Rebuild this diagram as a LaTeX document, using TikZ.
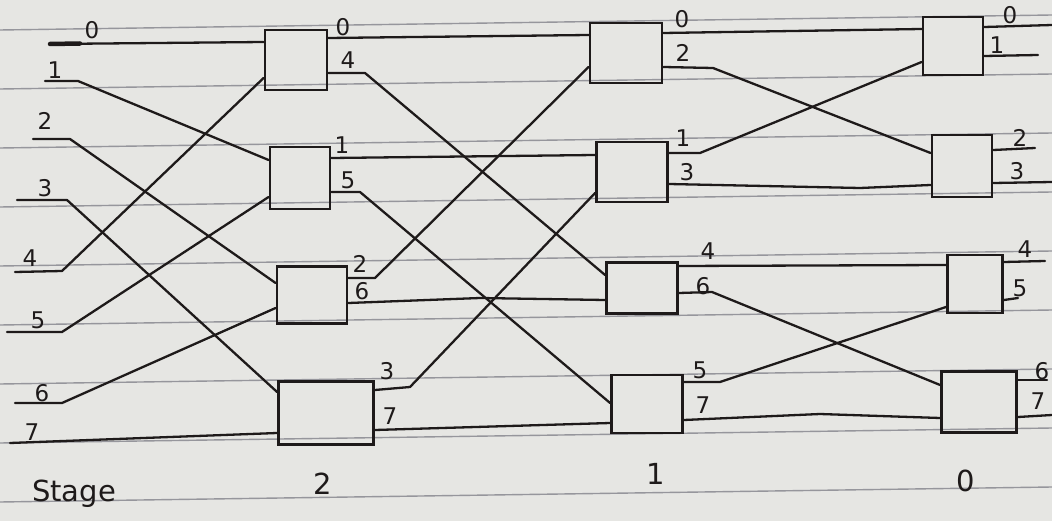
\documentclass[tikz,border=0pt]{standalone}
\usepackage{fontspec}
\setmainfont{DejaVu Sans}
\usetikzlibrary{calc}
\definecolor{paper}{RGB}{230,230,227}
\definecolor{rule}{RGB}{150,150,156}
\definecolor{ink}{RGB}{30,26,26}
\begin{document}
\begin{tikzpicture}[x=1pt,y=-1pt,
  blk/.style={draw=ink, line width=2.8pt, minimum width=#1, inner sep=0pt},
  wire/.style={draw=ink, line width=2.3pt, line join=round, line cap=round},
  lbl/.style={text=ink, font=\fontsize{23}{25}\selectfont, inner sep=0pt},
  big/.style={text=ink, font=\fontsize{29}{31}\selectfont, inner sep=0pt}]
% sheet of ruled paper
\fill[paper] (0,0) rectangle (1052,521);
\useasboundingbox (0,0) rectangle (1052,521);
\foreach \k in {0,...,8}
  \draw[rule, line width=1.4pt] (0,{30+59*\k}) -- (1052,{15+59*\k});

% stage 2 butterflies
\node[blk=62, minimum height=60] (A1) at (296,60) {};
\node[blk=60, minimum height=62] (A2) at (300,178) {};
\node[blk=70, minimum height=57] (A3) at (312,295) {};
\node[blk=95, minimum height=63] (A4) at (326,413) {};
% stage 1 butterflies
\node[blk=72, minimum height=60] (B1) at (626,53) {};
\node[blk=71, minimum height=60] (B2) at (632,172) {};
\node[blk=71, minimum height=51] (B3) at (642,288) {};
\node[blk=71, minimum height=58] (B4) at (647,404) {};
% stage 0 butterflies
\node[blk=60, minimum height=58] (C1) at (953,46) {};
\node[blk=60, minimum height=62] (C2) at (962,166) {};
\node[blk=55, minimum height=58] (C3) at (975,284) {};
\node[blk=75, minimum height=61] (C4) at (979,402) {};

% inputs into stage 2
\draw[wire, line width=4.5pt] (50,44) coordinate (x0) -- (80,43.5);
\draw[wire] (x0) -- (A1.west |- 0,42);
\draw[wire] (45,81) coordinate (x1) -- (78,81) -- (A2.west |- 0,160);
\draw[wire] (33,139) coordinate (x2) -- (70,139) -- (A3.west |- 0,283);
\draw[wire] (17,200) coordinate (x3) -- (67,200) -- (A4.west |- 0,392);
\draw[wire] (15,272) coordinate (x4) -- (62,271) -- (A1.west |- 0,78);
\draw[wire] (7,332) coordinate (x5) -- (62,332) -- (A2.west |- 0,197);
\draw[wire] (15,403) coordinate (x6) -- (62,403) -- (A3.west |- 0,308);
\draw[wire] (10,443) coordinate (x7) -- (A4.west |- 0,433);

% stage 2 -> stage 1
\draw[wire] (A1.east |- 0,38) -- (B1.west |- 0,35);
\draw[wire] (A1.east |- 0,73) -- (365,73) -- (B3.west |- 0,275);
\draw[wire] (A2.east |- 0,158) -- (B2.west |- 0,155);
\draw[wire] (A2.east |- 0,192) -- (360,192) -- (B4.west |- 0,403);
\draw[wire] (A3.east |- 0,278) -- (375,278) -- (B1.west |- 0,67);
\draw[wire] (A3.east |- 0,303) -- (480,298) -- (B3.west |- 0,300);
\draw[wire] (A4.east |- 0,390) -- (410,387) -- (B2.west |- 0,193);
\draw[wire] (A4.east |- 0,430) -- (B4.west |- 0,423);

% stage 1 -> stage 0
\draw[wire] (B1.east |- 0,33) -- (C1.west |- 0,29);
\draw[wire] (B1.east |- 0,67) -- (713,68) -- (C2.west |- 0,153);
\draw[wire] (B2.east |- 0,153) -- (700,153) -- (C1.west |- 0,62);
\draw[wire] (B2.east |- 0,184) -- (860,188) -- (C2.west |- 0,185);
\draw[wire] (B3.east |- 0,266) -- (C3.west |- 0,265);
\draw[wire] (B3.east |- 0,293) -- (712,292) -- (C4.west |- 0,385);
\draw[wire] (B4.east |- 0,382) -- (720,382) -- (C3.west |- 0,307);
\draw[wire] (B4.east |- 0,420) -- (820,414) -- (C4.west |- 0,418);

% stage 0 outputs
\draw[wire] (C1.east |- 0,27) -- (1052,25) coordinate (y0);
\draw[wire] (C1.east |- 0,56) -- (1038,55) coordinate (y1);
\draw[wire] (C2.east |- 0,150) -- (1035,148) coordinate (y2);
\draw[wire] (C2.east |- 0,183) -- (1052,182) coordinate (y3);
\draw[wire] (C3.east |- 0,262) -- (1045,261) coordinate (y4);
\draw[wire] (C3.east |- 0,300) -- (1018,298) coordinate (y5);
\draw[wire] (C4.east |- 0,380) -- (1047,380) coordinate (y6);
\draw[wire] (C4.east |- 0,417) -- (1052,415) coordinate (y7);

% input indices
\node[lbl] (l0) at (92,30) {0};
\node[lbl] (l1) at (55,70) {1};
\node[lbl] (l2) at (45,121) {2};
\node[lbl] (l3) at (45,188) {3};
\node[lbl] (l4) at (30,258) {4};
\node[lbl] (l5) at (38,320) {5};
\node[lbl] (l6) at (42,393) {6};
\node[lbl] (l7) at (32,432) {7};
% stage 2 output indices
\node[lbl] (a0) at (343,27) {0};
\node[lbl] (a4) at (348,60) {4};
\node[lbl] (a1) at (342,145) {1};
\node[lbl] (a5) at (348,180) {5};
\node[lbl] (a2) at (360,264) {2};
\node[lbl] (a6) at (362,291) {6};
\node[lbl] (a3) at (387,371) {3};
\node[lbl] (a7) at (390,416) {7};
% stage 1 output indices
\node[lbl] (b0) at (682,19) {0};
\node[lbl] (b2) at (683,53) {2};
\node[lbl] (b1) at (683,138) {1};
\node[lbl] (b3) at (687,172) {3};
\node[lbl] (b4) at (708,251) {4};
\node[lbl] (b6) at (703,286) {6};
\node[lbl] (b5) at (700,370) {5};
\node[lbl] (b7) at (703,405) {7};
% stage 0 output indices
\node[lbl] (c0) at (1010,15) {0};
\node[lbl] (c1) at (997,45) {1};
\node[lbl] (c2) at (1020,138) {2};
\node[lbl] (c3) at (1017,171) {3};
\node[lbl] (c4) at (1025,249) {4};
\node[lbl] (c5) at (1020,288) {5};
\node[lbl] (c6) at (1042,371) {6};
\node[lbl] (c7) at (1038,401) {7};

% stage numbers
\node[big] (st) at (74,494) {Stage};
\node[big] (s2) at (323,484) {2};
\node[big] (s1) at (656,474) {1};
\node[big] (s0) at (966,481) {0};
\end{tikzpicture}
\end{document}
